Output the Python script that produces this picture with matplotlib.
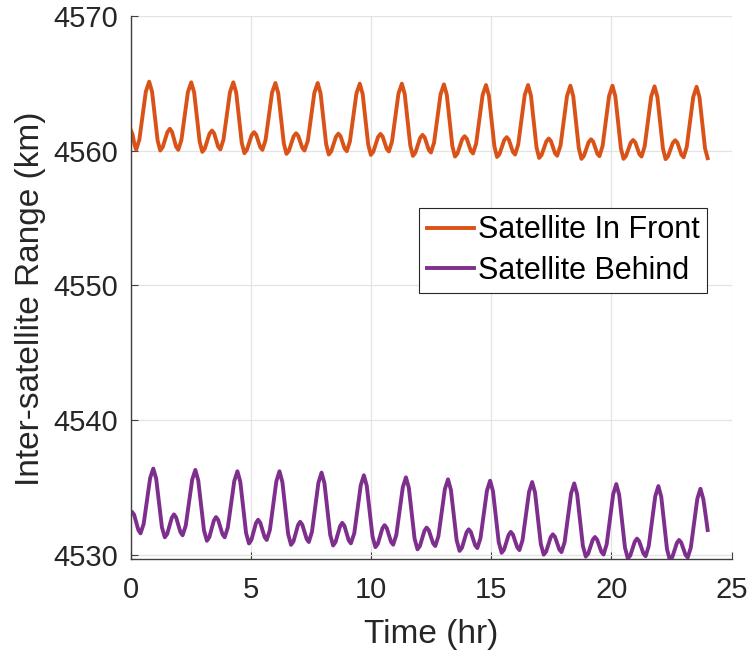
import matplotlib
matplotlib.use("Agg")
import matplotlib.pyplot as plt

plt.rcParams['font.family'] = ['Liberation Sans', 'DejaVu Sans']

# Satellite in front: range (km) vs time (hr)
front_t = [0.00, 0.08, 0.16, 0.23,
           0.36, 0.63, 0.77, 0.89, 1.12, 1.23, 1.33, 1.53, 1.63, 1.72, 1.89, 1.98,
           2.11, 2.38, 2.52, 2.64, 2.87, 2.98, 3.08, 3.28, 3.38, 3.47, 3.64, 3.73,
           3.86, 4.13, 4.27, 4.39, 4.62, 4.73, 4.83, 5.03, 5.13, 5.22, 5.39, 5.48,
           5.61, 5.88, 6.02, 6.14, 6.37, 6.48, 6.58, 6.78, 6.88, 6.97, 7.14, 7.23,
           7.37, 7.64, 7.78, 7.90, 8.13, 8.24, 8.34, 8.54, 8.64, 8.73, 8.90, 8.99,
           9.12, 9.39, 9.53, 9.65, 9.88, 9.99, 10.09, 10.29, 10.39, 10.48, 10.65, 10.74,
           10.87, 11.14, 11.28, 11.40, 11.63, 11.74, 11.84, 12.04, 12.14, 12.23, 12.40, 12.49,
           12.62, 12.89, 13.03, 13.15, 13.38, 13.49, 13.59, 13.79, 13.89, 13.98, 14.15, 14.24,
           14.37, 14.64, 14.78, 14.90, 15.13, 15.24, 15.34, 15.54, 15.64, 15.73, 15.90, 15.99,
           16.12, 16.39, 16.53, 16.65, 16.88, 16.99, 17.09, 17.29, 17.39, 17.48, 17.65, 17.74,
           17.88, 18.15, 18.29, 18.41, 18.64, 18.75, 18.85, 19.05, 19.15, 19.24, 19.41, 19.50,
           19.63, 19.90, 20.04, 20.16, 20.39, 20.50, 20.60, 20.80, 20.90, 20.99, 21.16, 21.25,
           21.38, 21.65, 21.79, 21.91, 22.14, 22.25, 22.35, 22.55, 22.65, 22.74, 22.91, 23.00,
           23.13, 23.40, 23.54, 23.66, 23.89, 24.00]
front_r = [4561.55, 4561.20, 4560.45, 4560.08,
           4560.82, 4564.39, 4565.13, 4564.38, 4560.77, 4560.02, 4560.26, 4561.39, 4561.63, 4561.40, 4560.30, 4560.07,
           4560.80, 4564.35, 4565.08, 4564.33, 4560.67, 4559.92, 4560.15, 4561.27, 4561.50, 4561.30, 4560.30, 4560.10,
           4560.83, 4564.35, 4565.08, 4564.31, 4560.59, 4559.82, 4560.05, 4561.15, 4561.38, 4561.19, 4560.26, 4560.07,
           4560.79, 4564.31, 4565.03, 4564.26, 4560.54, 4559.77, 4559.99, 4561.08, 4561.30, 4561.11, 4560.21, 4560.02,
           4560.75, 4564.30, 4565.03, 4564.25, 4560.50, 4559.72, 4559.95, 4561.04, 4561.27, 4561.08, 4560.16, 4559.97,
           4560.70, 4564.25, 4564.98, 4564.21, 4560.46, 4559.69, 4559.92, 4561.02, 4561.25, 4561.06, 4560.14, 4559.95,
           4560.68, 4564.25, 4564.98, 4564.20, 4560.40, 4559.62, 4559.85, 4560.95, 4561.18, 4560.99, 4560.06, 4559.87,
           4560.61, 4564.19, 4564.93, 4564.15, 4560.35, 4559.57, 4559.79, 4560.86, 4561.08, 4560.89, 4559.99, 4559.80,
           4560.54, 4564.14, 4564.88, 4564.10, 4560.32, 4559.54, 4559.75, 4560.80, 4561.01, 4560.82, 4559.91, 4559.72,
           4560.47, 4564.13, 4564.88, 4564.09, 4560.26, 4559.47, 4559.68, 4560.70, 4560.91, 4560.72, 4559.82, 4559.63,
           4560.39, 4564.07, 4564.83, 4564.04, 4560.19, 4559.40, 4559.61, 4560.64, 4560.85, 4560.67, 4559.78, 4559.60,
           4560.36, 4564.07, 4564.83, 4564.04, 4560.19, 4559.40, 4559.60, 4560.60, 4560.80, 4560.62, 4559.75, 4559.57,
           4560.33, 4564.02, 4564.78, 4563.99, 4560.17, 4559.38, 4559.58, 4560.58, 4560.78, 4560.60, 4559.70, 4559.52,
           4560.28, 4563.99, 4564.75, 4563.97, 4560.18, 4559.45]

# Satellite behind
behind_t = [0.00, 0.05, 0.14, 0.32, 0.41,
            0.54, 0.81, 0.94, 1.06, 1.30, 1.42, 1.52, 1.71, 1.80, 1.89, 2.07, 2.16,
            2.29, 2.56, 2.69, 2.81, 3.05, 3.17, 3.27, 3.46, 3.55, 3.64, 3.82, 3.91,
            4.04, 4.31, 4.44, 4.56, 4.80, 4.92, 5.02, 5.21, 5.30, 5.39, 5.57, 5.66,
            5.79, 6.06, 6.19, 6.31, 6.55, 6.67, 6.77, 6.96, 7.05, 7.14, 7.32, 7.41,
            7.54, 7.81, 7.94, 8.06, 8.30, 8.42, 8.52, 8.71, 8.80, 8.89, 9.07, 9.16,
            9.30, 9.57, 9.70, 9.82, 10.06, 10.18, 10.28, 10.47, 10.56, 10.65, 10.83, 10.92,
            11.05, 11.32, 11.45, 11.57, 11.81, 11.93, 12.03, 12.22, 12.31, 12.40, 12.58, 12.67,
            12.80, 13.07, 13.20, 13.32, 13.56, 13.68, 13.78, 13.97, 14.06, 14.15, 14.33, 14.42,
            14.55, 14.82, 14.95, 15.07, 15.31, 15.43, 15.53, 15.72, 15.81, 15.90, 16.08, 16.17,
            16.30, 16.57, 16.70, 16.82, 17.06, 17.18, 17.28, 17.47, 17.56, 17.65, 17.83, 17.92,
            18.05, 18.32, 18.45, 18.57, 18.81, 18.93, 19.03, 19.22, 19.31, 19.40, 19.58, 19.67,
            19.80, 20.07, 20.20, 20.32, 20.56, 20.68, 20.78, 20.97, 21.06, 21.15, 21.33, 21.42,
            21.55, 21.82, 21.95, 22.07, 22.31, 22.43, 22.53, 22.72, 22.81, 22.90, 23.08, 23.17,
            23.30, 23.57, 23.70, 23.82, 23.92, 24.00]
behind_r = [4533.15, 4533.20, 4533.00, 4531.85, 4531.60,
            4532.30, 4535.71, 4536.41, 4535.67, 4532.05, 4531.31, 4531.56, 4532.76, 4533.01, 4532.78, 4531.69, 4531.46,
            4532.17, 4535.60, 4536.31, 4535.54, 4531.82, 4531.05, 4531.31, 4532.55, 4532.81, 4532.59, 4531.53, 4531.31,
            4532.03, 4535.49, 4536.21, 4535.43, 4531.63, 4530.85, 4531.11, 4532.35, 4532.61, 4532.39, 4531.33, 4531.11,
            4531.85, 4535.47, 4536.21, 4535.41, 4531.55, 4530.75, 4531.00, 4532.21, 4532.46, 4532.24, 4531.18, 4530.96,
            4531.71, 4535.36, 4536.11, 4535.32, 4531.49, 4530.70, 4530.95, 4532.13, 4532.38, 4532.16, 4531.08, 4530.86,
            4531.60, 4535.17, 4535.91, 4535.13, 4531.36, 4530.58, 4530.82, 4531.97, 4532.21, 4532.00, 4530.97, 4530.76,
            4531.49, 4535.03, 4535.76, 4534.98, 4531.20, 4530.42, 4530.66, 4531.79, 4532.03, 4531.83, 4530.86, 4530.66,
            4531.38, 4534.89, 4535.61, 4534.83, 4531.08, 4530.30, 4530.53, 4531.67, 4531.90, 4531.70, 4530.71, 4530.51,
            4531.24, 4534.78, 4535.51, 4534.73, 4530.94, 4530.16, 4530.39, 4531.48, 4531.71, 4531.51, 4530.56, 4530.36,
            4531.10, 4534.67, 4535.41, 4534.62, 4530.81, 4530.02, 4530.24, 4531.31, 4531.53, 4531.34, 4530.40, 4530.21,
            4530.95, 4534.57, 4535.31, 4534.52, 4530.67, 4529.88, 4530.09, 4531.12, 4531.33, 4531.14, 4530.22, 4530.03,
            4530.79, 4534.50, 4535.26, 4534.45, 4530.55, 4529.74, 4529.95, 4530.99, 4531.21, 4531.02, 4530.10, 4529.91,
            4530.67, 4534.35, 4535.11, 4534.31, 4530.42, 4529.62, 4529.84, 4530.89, 4531.11, 4530.92, 4530.00, 4529.81,
            4530.55, 4534.17, 4534.91, 4534.14, 4532.90, 4531.85]

x_ticks = [0, 5, 10, 15, 20, 25]
y_ticks = [4530, 4540, 4550, 4560, 4570]

fig = plt.figure(figsize=(7.51, 6.55), dpi=100)
ax = fig.add_axes([0.174, 0.146, 0.8003, 0.8295])

ax.plot(front_t, front_r, color='#D95319', lw=2.8, label='Satellite In Front')
ax.plot(behind_t, behind_r, color='#7E2F8E', lw=2.8, label='Satellite Behind')

ax.set_xlim(0, 25)
ax.set_ylim(4529.67, 4570)
ax.set_xticks(x_ticks)
ax.set_yticks(y_ticks)
ax.grid(True, color='#e3e3e3', lw=0.9)
ax.set_axisbelow(True)

for s in ['top', 'right']:
    ax.spines[s].set_visible(False)
for s in ['left', 'bottom']:
    ax.spines[s].set_color('#404040')
    ax.spines[s].set_linewidth(1.0)

ax.tick_params(direction='in', length=5, width=0.8, colors='#404040',
               labelcolor='#262626', labelsize=21)
ax.tick_params(axis='x', pad=12)
ax.tick_params(axis='y', pad=9)
ax.set_xlabel('Time (hr)', fontsize=24, color='#262626')
ax.set_ylabel('Inter-satellite Range (km)', fontsize=24, color='#262626')
ax.xaxis.set_label_coords(0.5, -0.11)
ax.yaxis.set_label_coords(-0.141, 0.479)

leg = ax.legend(loc='upper left', bbox_to_anchor=(0.48, 0.647), borderaxespad=0,
                fontsize=22, fancybox=False, framealpha=1, edgecolor='#262626',
                handlelength=1.55, handletextpad=0.12, labelspacing=0.33, borderpad=0.25)
leg.get_frame().set_linewidth(0.8)

plt.savefig('out.png', dpi=100)
